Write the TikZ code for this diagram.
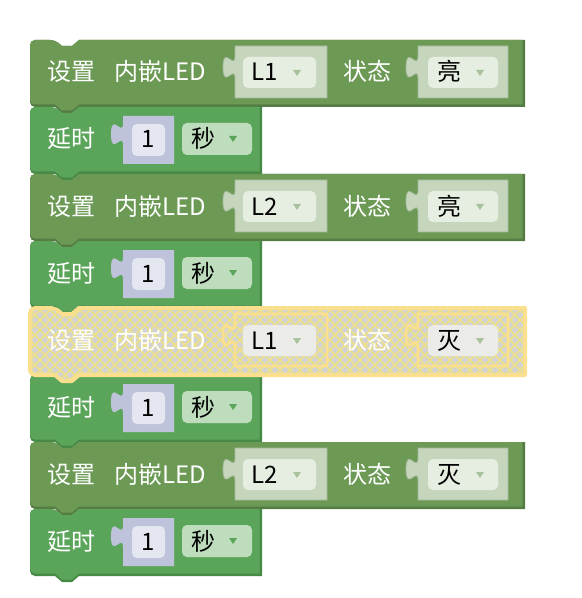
\documentclass[tikz,border=0pt]{standalone}
\usepackage{fontspec}
\setmainfont{Noto Sans CJK SC}
\definecolor{setgreen}{HTML}{6C9A55}
\definecolor{setdark}{HTML}{557D43}
\definecolor{setbox}{HTML}{C6D6BD}
\definecolor{setboxedge}{HTML}{A3B898}
\definecolor{setdrop}{HTML}{E6EEE2}
\definecolor{setarrow}{HTML}{A9C29C}
\definecolor{delaygreen}{HTML}{5BA55B}
\definecolor{delaydark}{HTML}{478A47}
\definecolor{numbox}{HTML}{BEC2DB}
\definecolor{numinner}{HTML}{E4E6F0}
\definecolor{secdrop}{HTML}{BEDDBD}
\definecolor{secarrow}{HTML}{5BA55B}
\definecolor{selgray}{HTML}{D3D3D3}
\definecolor{hatch}{HTML}{EEE185}
\definecolor{selborder}{HTML}{FADF8E}
\definecolor{seldrop}{HTML}{EBEBE8}
\definecolor{selarrow}{HTML}{A9C29C}

\newcommand\blkshape[4]{(#3,#2) -- (#3,#4) -- (#1+49,#4) -- (#1+42,#4+6) -- (#1+32,#4+6) -- (#1+25,#4) [rounded corners=3.75pt] -- (#1,#4) -- (#1,#2) -- (#1+25,#2) [sharp corners] -- (#1+32,#2+6) -- (#1+42,#2+6) -- (#1+49,#2) -- cycle}
\newcommand\inboxpath[5]{(#1,#2) -- (#3,#2) -- (#3,#4) -- (#1,#4) -- (#1,#5+22.5) .. controls (#1,#5+7.5) and (#1-12,#5+34.5) .. (#1-12,#5+11.25) .. controls (#1-12,#5-12) and (#1,#5+15) .. (#1,#5) -- cycle}
\newcommand\ddarrow[2]{(#1-4,#2-3) -- (#1+4,#2-3) -- (#1,#2+3) -- cycle}
\newcommand\hatchlines{%
 \foreach \c in {-90,-80,...,540} {
  \draw[hatch, line width=1.1pt] (\c,300) -- (\c+90,390);
  \draw[hatch, line width=1.1pt] (\c,390) -- (\c+90,300);
 }}

\newcommand\setblk[4]{%
 \fill[setdark] \blkshape{30}{#1}{525}{#1+67};
 \fill[setgreen] \blkshape{30}{#1}{522.5}{#1+64.5};
 \filldraw[setbox, draw=setboxedge, line width=0.6pt] \inboxpath{235}{#1+6}{327}{#1+58}{#1+16};
 \filldraw[setbox, draw=setboxedge, line width=0.6pt] \inboxpath{418}{#1+6}{508}{#1+58}{#1+16};
 \fill[setdrop, rounded corners=3.75pt] (243,#1+17) rectangle (316,#1+48);
 \fill[setdrop, rounded corners=3.75pt] (428,#1+17) rectangle (498,#1+48);
 \fill[setarrow] \ddarrow{297}{#1+33};
 \fill[setarrow] \ddarrow{480}{#1+33};
 \node[wlbl] (#2-set) at (71,#1+41) {设置};
 \node[wlbl] (#2-led) at (160,#1+41) {内嵌LED};
 \node[wlbl] (#2-st) at (367,#1+41) {状态};
 \node[blbl] (#2-l) at (265,#1+41) {#3};
 \node[blbl] (#2-s) at (449.5,#1+41) {#4};
}
\newcommand\delayblk[2]{%
 \fill[delaydark] \blkshape{30}{#1}{262}{#1+67};
 \fill[delaygreen] \blkshape{30}{#1}{259.5}{#1+64.5};
 \fill[numbox] \inboxpath{123}{#1+9}{174}{#1+57}{#1+16};
 \fill[numinner, rounded corners=3.75pt] (132,#1+17) rectangle (165,#1+49);
 \fill[secdrop, rounded corners=3.75pt] (182,#1+16) rectangle (252,#1+48);
 \fill[secarrow] \ddarrow{233}{#1+32};
 \node[wlbl] (#2-d) at (71,#1+41) {延时};
 \node[blbl] (#2-n) at (148.5,#1+41) {1};
 \node[blbl] (#2-u) at (203,#1+41) {秒};
}

\begin{document}
\begin{tikzpicture}[x=0.75pt,y=-0.75pt,
  lbl/.style={anchor=base,inner sep=0pt,font=\fontsize{18}{18}\selectfont},
  wlbl/.style={lbl,text=white},
  blbl/.style={lbl,text=black}]
\useasboundingbox[fill=white] (0,0) rectangle (581,598);

\setblk{40}{b1}{L1}{亮}
\delayblk{107}{b2}
\setblk{174}{b3}{L2}{亮}
\delayblk{241}{b4}
\delayblk{375}{b6}
\setblk{442}{b7}{L2}{灭}
\delayblk{509}{b8}

% selected block
\fill[selgray] \blkshape{30}{308}{525}{375};
\begin{scope}
  \clip \blkshape{30}{308}{525}{375};
  \hatchlines
\end{scope}
\draw[selborder, line width=3pt, line join=round] \blkshape{30}{308}{525}{375};
\foreach \bx/\bxx in {235/327, 418/508} {
  \fill[selgray] \inboxpath{\bx}{314}{\bxx}{366}{324};
  \begin{scope}
    \clip \inboxpath{\bx}{314}{\bxx}{366}{324};
    \hatchlines
  \end{scope}
  \draw[selborder, line width=2pt, line join=round] \inboxpath{\bx}{314}{\bxx}{366}{324};
}
\fill[seldrop, rounded corners=3.75pt] (243,325) rectangle (316,356);
\fill[seldrop, rounded corners=3.75pt] (428,325) rectangle (498,356);
\fill[selarrow] \ddarrow{297}{341};
\fill[selarrow] \ddarrow{480}{341};
\node[wlbl] (b5-set) at (71,349) {设置};
\node[wlbl] (b5-led) at (160,349) {内嵌LED};
\node[wlbl] (b5-st) at (367,349) {状态};
\node[blbl] (b5-l) at (265,349) {L1};
\node[blbl] (b5-s) at (449.5,349) {灭};
\end{tikzpicture}
\end{document}
